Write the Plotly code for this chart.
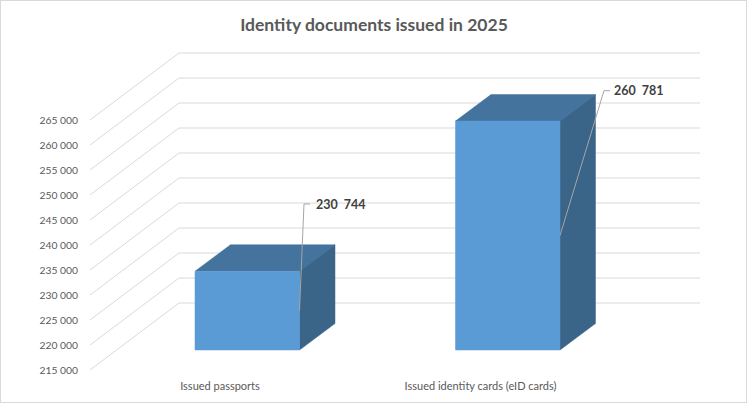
import plotly.graph_objs as go

# Chart values
categories = ['Issued passports', 'Issued identity cards (eID cards)']
issued = [230744, 260781]
y_ticks = [215000, 220000, 225000, 230000, 235000, 240000,
           245000, 250000, 255000, 260000, 265000]

# Layout of the fake 3D box, x in pixels, y in axis units (200 units = 1 px)
y_min = 215000
y_max = 289000
wall_dx = 89
wall_dy = 13400
wall_right = 700
bar_left = [195, 455.5]
bar_width = 104.5
bar_floor = 4000  # bars stand a bit behind the front of the floor
depth_dx = 35.5
depth_dy = 5300
label_elbow_x = [304, 604]
label_elbow_y = [248200, 270860]
label_gap = [10, 8]
label_x_pos = [220, 480.5]

font_name = 'Lato'
grid_color = '#d9d9d9'

# Gridlines: oblique on the side wall, then flat on the back wall
grid_x = []
grid_y = []
for v in y_ticks:
    grid_x += [90, 90 + wall_dx, wall_right, None]
    grid_y += [v, v + wall_dy, v + wall_dy, None]

fig = go.Figure()
fig.add_trace(go.Scatter(x=grid_x, y=grid_y, mode='lines',
                         line=dict(color=grid_color, width=1),
                         hoverinfo='skip', showlegend=False))

# One bar is three filled faces
for i, value in enumerate(issued):
    x0 = bar_left[i]
    x1 = x0 + bar_width
    y0 = y_min + bar_floor
    y1 = value + bar_floor
    front = ([x0, x1, x1, x0, x0], [y0, y0, y1, y1, y0])
    top = ([x0, x1, x1 + depth_dx, x0 + depth_dx, x0],
           [y1, y1, y1 + depth_dy, y1 + depth_dy, y1])
    side = ([x1, x1 + depth_dx, x1 + depth_dx, x1, x1],
            [y0, y0 + depth_dy, y1 + depth_dy, y1, y0])
    for face, color in ((top, '#44739e'), (side, '#3a6588'), (front, '#5b9bd5')):
        fig.add_trace(go.Scatter(x=face[0], y=face[1], mode='lines', fill='toself',
                                 fillcolor=color,
                                 line=dict(color=color, width=0.5),
                                 hoverinfo='skip', showlegend=False))

    # Leader line goes from the middle of the front right edge to the label
    fig.add_trace(go.Scatter(x=[x1, label_elbow_x[i], label_elbow_x[i] + 6],
                             y=[(y0 + y1) / 2, label_elbow_y[i], label_elbow_y[i]],
                             mode='lines', line=dict(color='#a6a6a6', width=1),
                             hoverinfo='skip', showlegend=False))
    fig.add_annotation(x=label_elbow_x[i] + label_gap[i], y=label_elbow_y[i],
                       xref='x', yref='y', xanchor='left', yanchor='middle',
                       text=f'{value:,}'.replace(',', '\u00a0\u00a0'),
                       showarrow=False,
                       font=dict(family=font_name, size=12.5, color='#404040', weight='bold'))

fig.update_layout(
    width=747,
    height=403,
    margin=dict(l=90, r=0, t=0, b=33, pad=0),
    paper_bgcolor='white',
    plot_bgcolor='white',
    showlegend=False,
    title=dict(text='<b>Identity documents issued in 2025</b>',
               x=374 / 747, y=1 - 24.5 / 403, xref='container', yref='container',
               xanchor='center', yanchor='middle',
               font=dict(family=font_name, size=17.5, color='#595959')),
    xaxis=dict(range=[90, 747], showgrid=False, zeroline=False, showline=False,
               tickmode='array', tickvals=label_x_pos, ticktext=categories,
               ticks='outside', ticklen=6, tickcolor='rgba(0,0,0,0)',
               tickfont=dict(family=font_name, size=11, color='#595959')),
    yaxis=dict(range=[y_min, y_max], showgrid=False, zeroline=False, showline=False,
               tickmode='array', tickvals=y_ticks,
               ticktext=[f'{v:,}'.replace(',', ' ') for v in y_ticks],
               ticks='outside', ticklen=9, tickcolor='rgba(0,0,0,0)',
               tickfont=dict(family=font_name, size=10.3, color='#595959')),
    # thin border round the whole chart
    shapes=[dict(type='rect', xref='paper', yref='paper', x0=-90 / 657, x1=1,
                 y0=-33 / 370, y1=1, line=dict(color=grid_color, width=2),
                 fillcolor='rgba(0,0,0,0)')],
)

# the page default body margin would push the chart 8 px off
fig.write_html("out.html", config=dict(displayModeBar=False),
               post_script="document.body.style.margin='0';")
